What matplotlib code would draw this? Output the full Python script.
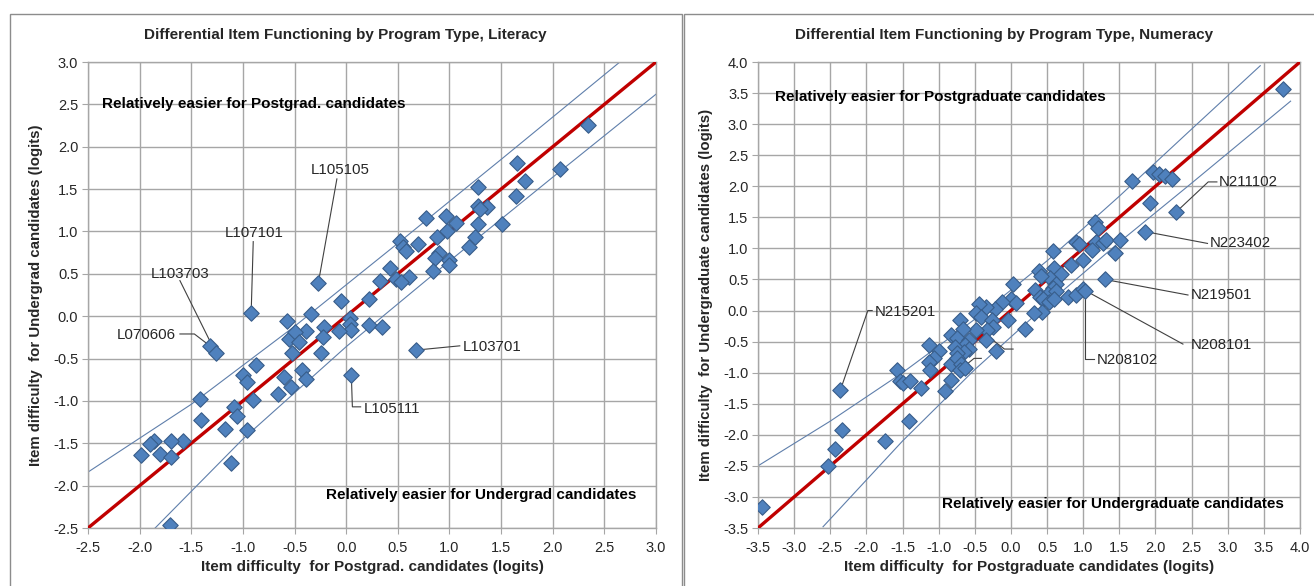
import numpy as np
import matplotlib
matplotlib.use("Agg")
import matplotlib.pyplot as plt
from matplotlib.patches import Rectangle

plt.rcParams['font.family'] = ['Liberation Sans', 'DejaVu Sans']

# Literacy items: difficulty for postgrad (x) and undergrad (y) candidates, logits
lit_postgrad = [2.34, 1.65, 2.07, 1.73, 1.28, 1.64, 1.28, 1.36, 1.30, 1.51, 1.28, 1.06,
                0.77, 0.97, 0.98, 0.88, 0.52, 0.55, 0.58, 0.70, 1.25, 1.19, 0.90, 0.86,
                1.00, 1.00, 0.84, 0.42, 0.61, 0.48, 0.53, 0.33, -0.27, 0.22, -0.05, -0.34,
                -0.92, 0.04, 0.04, 0.05, -0.07, 0.22, 0.35, -0.21, -0.39, -0.22, -0.57, -0.55,
                -0.50, -0.46, -0.52, -0.24, -1.32, -1.26, 0.68, 0.05, -1.00, -0.96, -0.87, -0.90,
                -0.60, -0.43, -0.39, -0.53, -0.66, -1.42, -1.09, -1.06, -0.96, -1.17, -1.41, -1.12,
                -1.58, -1.70, -1.86, -1.90, -1.80, -1.99, -1.70, -1.71]
lit_undergrad = [2.26, 1.81, 1.74, 1.59, 1.53, 1.42, 1.30, 1.29, 1.27, 1.09, 1.09, 1.10,
                 1.16, 1.18, 1.00, 0.94, 0.89, 0.82, 0.77, 0.85, 0.93, 0.82, 0.75, 0.69,
                 0.66, 0.60, 0.53, 0.57, 0.46, 0.44, 0.40, 0.41, 0.39, 0.20, 0.18, 0.02,
                 0.04, -0.02, -0.09, -0.16, -0.17, -0.10, -0.13, -0.13, -0.17, -0.24, -0.06, -0.27,
                 -0.19, -0.30, -0.43, -0.44, -0.35, -0.44, -0.40, -0.70, -0.69, -0.78, -0.58, -0.99,
                 -0.72, -0.63, -0.74, -0.83, -0.92, -0.98, -1.07, -1.18, -1.34, -1.33, -1.23, -1.73,
                 -1.47, -1.47, -1.47, -1.51, -1.63, -1.64, -1.66, -2.46]

# Numeracy items
num_postgrad = [3.76, 1.97, 2.05, 2.13, 2.23, 1.67, 1.92, 2.29, 1.86, 1.17, 1.20, 1.18,
                1.28, 1.32, 1.51, 1.12, 1.44, 0.90, 0.94, 1.00, 0.58, 0.83, 0.59, 0.69,
                0.54, 0.62, 0.39, 0.41, 1.30, 0.03, 0.33, 0.58, 0.40, 0.51, 0.63, 0.79,
                0.90, 1.00, 1.02, 0.45, 0.53, 0.60, 0.43, 0.32, 0.20, 0.00, 0.07, -0.12,
                -0.04, -0.22, -0.35, -0.44, -0.48, -0.41, -0.26, -0.25, -0.33, -0.48, -0.35, -0.21,
                -0.71, -0.67, -0.83, -0.74, -0.58, -0.64, -0.77, -0.58, -0.65, -0.74, -1.14, -0.99,
                -1.06, -1.13, -1.12, -0.83, -0.75, -0.69, -0.71, -0.63, -0.83, -0.91, -1.24, -1.57,
                -1.54, -1.49, -1.40, -1.41, -2.36, -2.34, -2.43, -2.53, -1.74, -3.45]
num_undergrad = [3.57, 2.23, 2.20, 2.17, 2.11, 2.08, 1.73, 1.59, 1.27, 1.42, 1.33, 1.10,
                 1.08, 1.13, 1.13, 0.98, 0.93, 1.10, 1.07, 0.81, 0.96, 0.73, 0.69, 0.58,
                 0.52, 0.43, 0.64, 0.55, 0.50, 0.42, 0.33, 0.37, 0.22, 0.27, 0.31, 0.22,
                 0.25, 0.34, 0.31, 0.19, 0.14, 0.19, -0.02, -0.04, -0.29, 0.19, 0.12, 0.14,
                 -0.16, 0.02, 0.06, 0.10, -0.04, -0.11, -0.15, -0.27, -0.31, -0.32, -0.48, -0.65,
                 -0.16, -0.29, -0.39, -0.44, -0.47, -0.56, -0.58, -0.62, -0.66, -0.69, -0.56, -0.65,
                 -0.76, -0.83, -0.95, -0.86, -0.77, -0.86, -0.95, -0.92, -1.12, -1.30, -1.24, -0.95,
                 -1.14, -1.17, -1.13, -1.78, -1.28, -1.92, -2.23, -2.51, -2.10, -3.16]

# Confidence band lines around the identity line
lit_upper_x = [-2.5, -1.5, -0.5, 0.5, 1.5, 2.65]
lit_upper_y = [-1.84, -1.04, -0.12, 0.86, 1.85, 3.0]
lit_lower_x = [-1.85, -1.0, 0.0, 1.0, 2.0, 3.0]
lit_lower_y = [-2.5, -1.45, -0.36, 0.65, 1.64, 2.62]

num_upper_x = [-3.5, -2.5, -1.5, -0.5, 0.5, 1.5, 2.5, 3.45]
num_upper_y = [-2.5, -1.78, -1.0, -0.14, 0.8, 1.84, 2.92, 3.94]
num_lower_x = [-2.6, -1.5, -0.5, 0.5, 1.5, 2.5, 3.87]
num_lower_y = [-3.48, -2.1, -0.95, 0.1, 1.1, 2.05, 3.37]

# Flagged items: (label, item x, item y, leader path, text anchor, ha)
lit_callouts = [
    ("L105105", -0.27, 0.39, [(-0.09, 1.62)], (-0.06, 1.73), "center"),
    ("L107101", -0.92, 0.04, [(-0.90, 0.88)], (-0.89, 0.98), "center"),
    ("L103703", -1.26, -0.44, [(-1.61, 0.42)], (-1.61, 0.50), "center"),
    ("L070606", -1.32, -0.35, [(-1.47, -0.21), (-1.61, -0.21)], (-1.65, -0.22), "right"),
    ("L103701", 0.68, -0.40, [(1.10, -0.35)], (1.13, -0.36), "left"),
    ("L105111", 0.05, -0.70, [(0.06, -1.07), (0.14, -1.07)], (0.17, -1.09), "left"),
]
num_callouts = [
    ("N211102", 2.29, 1.59, [(2.73, 2.07), (2.85, 2.07)], (2.88, 2.07), "left"),
    ("N223402", 1.86, 1.27, [(2.72, 1.08)], (2.75, 1.08), "left"),
    ("N219501", 1.30, 0.50, [(2.45, 0.25)], (2.49, 0.25), "left"),
    ("N208101", 1.00, 0.34, [(2.38, -0.54)], (2.49, -0.56), "left"),
    ("N208102", 1.02, 0.31, [(1.02, -0.78), (1.15, -0.78)], (1.19, -0.79), "left"),
    ("N215201", -2.36, -1.28, [(-1.98, 0.0), (-1.92, 0.0)], (-1.89, -0.03), "left"),
    ("", -0.29, -0.44, [(-0.09, -0.62), (0.03, -0.62)], (0.05, -0.62), "left"),
    ("", -0.67, -0.92, [(-0.51, -0.77), (-0.41, -0.77)], (-0.39, -0.77), "left"),
]

GRID = '#a6a6a6'
TXT = '#262626'


def draw_panel(ax, xs, ys, lims, up, lo, callouts, title_xy, title,
               xlabel, ylabel, note_top, note_bottom):
    ax.set_xlim(*lims)
    ax.set_ylim(*lims)
    ticks = np.arange(lims[0], lims[1] + 0.01, 0.5)
    ax.set_xticks(ticks)
    ax.set_yticks(ticks)
    ax.set_xticklabels([f"{t:.1f}" for t in ticks])
    ax.set_yticklabels([f"{t:.1f}" for t in ticks])
    ax.tick_params(direction='out', length=4, color=GRID, labelsize=10.5,
                   labelcolor=TXT, pad=3)
    ax.tick_params(axis='x', pad=5)
    ax.grid(True, color=GRID, lw=1.0)
    ax.set_axisbelow(True)
    for s in ax.spines.values():
        s.set_color(GRID)
        s.set_linewidth(1.0)

    ax.plot(up[0], up[1], color='#5f7fab', lw=0.8, zorder=2)
    ax.plot(lo[0], lo[1], color='#5f7fab', lw=0.8, zorder=2)
    ax.plot(lims, lims, color='#c00000', lw=2.4, zorder=3, solid_capstyle='butt')

    for label, px, py, via, txy, ha in callouts:
        path = [(px, py)] + via
        ax.plot([p[0] for p in path], [p[1] for p in path],
                color='#404040', lw=0.8, zorder=3)
        if label:
            ax.text(txy[0], txy[1], label, ha=ha, va='center', fontsize=10.8,
                    color=TXT, zorder=5)

    ax.scatter(xs, ys, marker='D', s=62, facecolor='#4f81bd',
               edgecolor='#385d8a', linewidths=0.8, zorder=4)

    ax.text(note_top[0], note_top[1], note_top[2], ha='left', va='center',
            fontsize=11, fontweight='bold', color='black', zorder=5)
    ax.text(note_bottom[0], note_bottom[1], note_bottom[2], ha='right', va='center',
            fontsize=11, fontweight='bold', color='black', zorder=5)

    ax.set_xlabel(xlabel, fontsize=11, fontweight='bold', color=TXT, labelpad=4)
    ax.set_ylabel(ylabel, fontsize=10.8, fontweight='bold', color=TXT, labelpad=7)
    ax.figure.text(title_xy[0], title_xy[1], title, ha='center', va='center',
                   fontsize=11, fontweight='bold', color=TXT)


W, H = 1314, 586
fig = plt.figure(figsize=(W / 100, H / 100), dpi=100)

# chart outlines
fig.add_artist(Rectangle((9.5 / W, -0.05), (681.5 - 9.5) / W, (H - 13.5) / H + 0.05,
                         transform=fig.transFigure, fill=False, ec='#8c8c8c', lw=1.0))
fig.add_artist(Rectangle((683.5 / W, -0.05), 0.6, (H - 13.5) / H + 0.05,
                         transform=fig.transFigure, fill=False, ec='#8c8c8c', lw=1.0))

ax1 = fig.add_axes([88 / W, (H - 528) / H, 568 / W, 466 / H])
ax2 = fig.add_axes([758 / W, (H - 528) / H, 542 / W, 466 / H])

draw_panel(ax1, lit_postgrad, lit_undergrad, (-2.5, 3.0),
           (lit_upper_x, lit_upper_y), (lit_lower_x, lit_lower_y), lit_callouts,
           (345.5 / W, 1 - 35 / H),
           "Differential Item Functioning by Program Type, Literacy",
           "Item difficulty  for Postgrad. candidates (logits)",
           "Item difficulty  for Undergrad candidates (logits)",
           (-2.36, 2.5, "Relatively easier for Postgrad. candidates"),
           (2.81, -2.11, "Relatively easier for Undergrad candidates"))

draw_panel(ax2, num_postgrad, num_undergrad, (-3.5, 4.0),
           (num_upper_x, num_upper_y), (num_lower_x, num_lower_y), num_callouts,
           (1004 / W, 1 - 35 / H),
           "Differential Item Functioning by Program Type, Numeracy",
           "Item difficulty  for Postgraduate candidates (logits)",
           "Item difficulty  for Undergraduate candidates (logits)",
           (-3.26, 3.43, "Relatively easier for Postgraduate candidates"),
           (3.77, -3.12, "Relatively easier for Undergraduate candidates"))

fig.savefig("out.png", dpi=100)
